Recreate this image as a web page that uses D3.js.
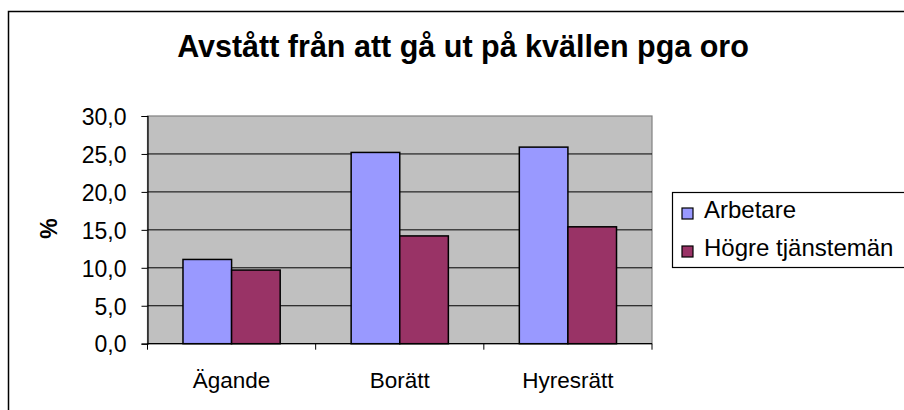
<!DOCTYPE html>
<html lang="sv">
<head>
<meta charset="utf-8">
<title>Avstått från att gå ut på kvällen pga oro</title>
<script src="https://d3js.org/d3.v7.min.js"></script>
<style>
  body { margin: 0; background: #fff; }
  text { font-family: "Liberation Sans", Arial, sans-serif; fill: #000; }
</style>
</head>
<body>
<script>
    // data
    var categories = ["Ägande", "Borätt", "Hyresrätt"];
    var seriesNames = ["Arbetare", "Högre tjänstemän"];
    var arbetare = [11.1, 25.2, 25.9];
    var hogre = [9.7, 14.2, 15.4];
    var yTicks = [0, 5, 10, 15, 20, 25, 30];
    var colors = ["#9999ff", "#993366"];

    var width = 904, height = 410;
    var plot = {left: 147.5, right: 652, top: 116, bottom: 343.7};

    const svg = d3.select("body")
        .append("svg")
        .attr("width", width)
        .attr("height", height);

    // outer chart frame (runs off the right and bottom edge)
    svg.append("rect")
        .attr("x", 8.5).attr("y", 11.5)
        .attr("width", 1000).attr("height", 600)
        .attr("fill", "#fff")
        .attr("stroke", "#000")
        .attr("stroke-width", 1.5);

    svg.append("text")
        .attr("x", 463)
        .attr("y", 57)
        .attr("text-anchor", "middle")
        .attr("font-size", 30.5)
        .attr("font-weight", "bold")
        .text("Avstått från att gå ut på kvällen pga oro");

    var x0 = d3.scaleBand()
        .domain(categories)
        .range([plot.left, plot.right]);

    var x1 = d3.scaleBand()
        .domain(seriesNames)
        .range([0, x0.bandwidth() * 0.578]);

    var y = d3.scaleLinear()
        .domain([0, 30])
        .range([plot.bottom, plot.top]);

    // plot area
    svg.append("rect")
        .attr("x", plot.left).attr("y", plot.top)
        .attr("width", plot.right - plot.left)
        .attr("height", plot.bottom - plot.top)
        .attr("fill", "#c0c0c0")
        .attr("stroke", "#808080")
        .attr("stroke-width", 1.2);

    // gridlines
    svg.append("g")
        .selectAll("line")
        .data(yTicks.filter(d => d > 0 && d < 30))
        .join("line")
        .attr("x1", plot.left).attr("x2", plot.right)
        .attr("y1", d => y(d)).attr("y2", d => y(d))
        .attr("stroke", "#000")
        .attr("stroke-width", 1);

    // bars
    var rows = categories.map((c, i) => ({cat: c, values: [arbetare[i], hogre[i]]}));
    var groups = svg.append("g")
        .selectAll("g")
        .data(rows)
        .join("g")
        .attr("transform", d => "translate(" + (x0(d.cat) + (x0.bandwidth() - x1.range()[1]) / 2) + ",0)");

    groups.selectAll("rect")
        .data(d => d.values.map((v, j) => ({name: seriesNames[j], value: v, j: j})))
        .join("rect")
        .attr("x", d => x1(d.name))
        .attr("y", d => y(d.value))
        .attr("width", x1.bandwidth())
        .attr("height", d => y(0) - y(d.value))
        .attr("fill", d => colors[d.j])
        .attr("stroke", "#000")
        .attr("stroke-width", 1.5);

    // y axis
    var yAxis = svg.append("g")
        .attr("transform", "translate(" + plot.left + ",0)")
        .call(d3.axisLeft(y).tickValues(yTicks).tickSize(6).tickPadding(15)
            .tickFormat(d => d3.format(".1f")(d).replace(".", ",")));
    yAxis.select(".domain").attr("stroke", "#000").attr("stroke-width", 1.2);
    yAxis.selectAll(".tick line").attr("stroke", "#000");
    yAxis.selectAll("text")
        .attr("font-size", 23)
        .attr("dy", "0.36em")
        .attr("font-family", "Liberation Sans, Arial, sans-serif");

    // x axis
    var xAxis = svg.append("g")
        .attr("transform", "translate(0," + plot.bottom + ")");
    xAxis.append("line")
        .attr("x1", plot.left).attr("x2", plot.right)
        .attr("stroke", "#000").attr("stroke-width", 1.2);
    var bounds = categories.map(c => x0(c)).concat([plot.right]);
    xAxis.selectAll("line.tk")
        .data(bounds)
        .join("line")
        .attr("class", "tk")
        .attr("x1", d => d).attr("x2", d => d)
        .attr("y1", 0).attr("y2", 6)
        .attr("stroke", "#000");
    xAxis.selectAll("text")
        .data(categories)
        .join("text")
        .attr("x", d => x0(d) + x0.bandwidth() / 2)
        .attr("y", 44.5)
        .attr("text-anchor", "middle")
        .attr("font-size", 22.5)
        .text(d => d);

    svg.append("text")
        .attr("transform", "translate(57,228.5) rotate(-90)")
        .attr("text-anchor", "middle")
        .attr("font-size", 23)
        .attr("font-weight", "bold")
        .text("%");

    // legend
    var legend = svg.append("g");
    legend.append("rect")
        .attr("x", 672.5).attr("y", 192.5)
        .attr("width", 300).attr("height", 75)
        .attr("fill", "#fff")
        .attr("stroke", "#000")
        .attr("stroke-width", 1.2);
    var items = legend.selectAll("g")
        .data(seriesNames)
        .join("g")
        .attr("transform", (d, i) => "translate(682," + (208 + i * 38) + ")");
    items.append("rect")
        .attr("width", 11).attr("height", 11)
        .attr("fill", (d, i) => colors[i])
        .attr("stroke", "#000")
        .attr("stroke-width", 1.2);
    items.append("text")
        .attr("x", 22).attr("y", 10)
        .attr("font-size", 24)
        .text(d => d);
</script>
</body>
</html>
